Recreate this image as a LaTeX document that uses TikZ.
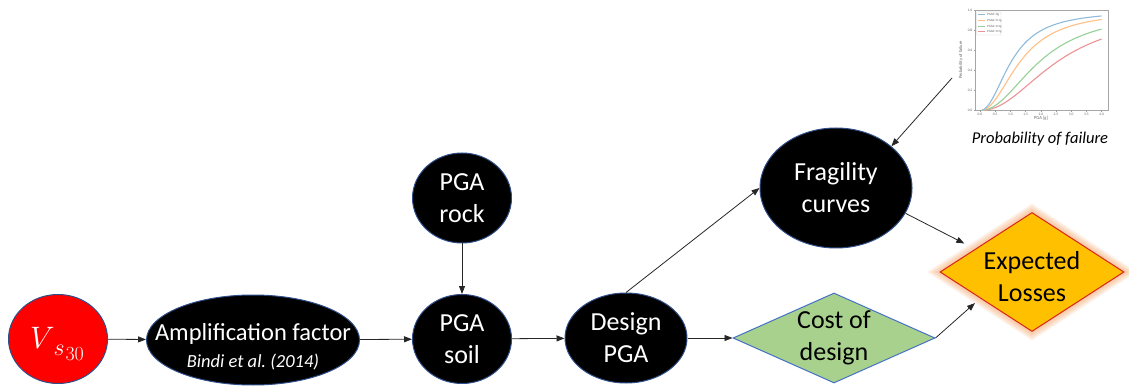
\RequirePackage{fix-cm}
\documentclass[tikz,border=0pt]{standalone}
\usepackage{fontspec}
\setmainfont{Carlito}
\usetikzlibrary{shapes.geometric,arrows.meta}

\definecolor{rim}{HTML}{2F4F8A}
\definecolor{costfill}{HTML}{A9D18E}
\definecolor{costrim}{HTML}{4472C4}
\definecolor{lossfill}{HTML}{FFC000}
\definecolor{lossrim}{HTML}{D9261C}
\definecolor{glowc}{HTML}{F08A3C}
\definecolor{cblue}{HTML}{8FBBDA}
\definecolor{corange}{HTML}{FFBF86}
\definecolor{cgreen}{HTML}{96D096}
\definecolor{cred}{HTML}{EB9394}

\begin{document}
\begin{tikzpicture}[x=1pt,y=-1pt,
  blob/.style={ellipse, draw=rim, line width=1pt, fill=black, inner sep=0pt},
  lbl/.style={font=\fontsize{26}{32}\selectfont, align=center, text=white, inner sep=0pt},
  dlbl/.style={lbl, text=black},
  flow/.style={draw=black!85, line width=0.8pt, -{Triangle[length=8pt,width=6pt]}},
  tick/.style={font=\fontsize{3.6}{4}\selectfont, text=black!60, inner sep=0pt},
  curve/.style={line width=1.1pt, line join=round}]
\useasboundingbox (0,0) rectangle (1129,387);

% ---------- process nodes ----------
\node[blob, fill=red, minimum width=99, minimum height=89] (vs) at (58,339) {};
\node[lbl, font=\fontsize{31}{31}\selectfont, anchor=base] (vstext) at (57,348)
  {$V$\kern-1pt\raisebox{-7pt}{\fontsize{24}{24}\selectfont$s$}\kern1pt\raisebox{-12pt}{\fontsize{20}{20}\selectfont$30$}};

\node[blob, minimum width=213, minimum height=90] (amp) at (253,340) {};
\node[lbl, font=\fontsize{24.5}{30}\selectfont] (amptext) at (253,334) {Amplification factor};
\node[lbl, font=\fontsize{18.5}{22}\selectfont\itshape] (ampref) at (253,362) {Bindi et al.\ (2014)};

\node[blob, minimum width=99, minimum height=90] (rock) at (462,198) {};
\node[lbl] (rocktext) at (462,198) {PGA\\rock};

\node[blob, minimum width=99, minimum height=89] (soil) at (462,339) {};
\node[lbl] (soiltext) at (462,339) {PGA\\soil};

\node[blob, minimum width=122, minimum height=90] (design) at (626,338) {};
\node[lbl] (designtext) at (626,338) {Design\\PGA};

\node[blob, minimum width=152, minimum height=120] (frag) at (836,188) {};
\node[lbl] (fragtext) at (836,188) {Fragility\\curves};

\node[diamond, draw=costrim, line width=1pt, fill=costfill, inner sep=0pt,
      minimum width=202, minimum height=90] (cost) at (834,338) {};
\node[dlbl] (costtext) at (834,338) {Cost of\\design};

% soft halo around the outcome node
\foreach \g in {13,11,...,1}{
  \fill[glowc, opacity=0.09]
    ({1032-92-\g},272) -- (1032,{272-59.5-0.7*\g}) --
    ({1032+92+\g},272) -- (1032,{272+59.5+0.7*\g}) -- cycle;
}
\node[diamond, draw=lossrim, line width=1pt, fill=lossfill, inner sep=0pt,
      minimum width=184, minimum height=119] (exp) at (1032,272) {};
\node[dlbl] (exptext) at (1032,277) {Expected\\Losses};

% ---------- fragility curve plot ----------
\draw[black!35, line width=0.5pt] (975,10) rectangle (1108,110.5);
\foreach \v/\t in {0/0.0,0.5/0.5,1/1.0,1.5/1.5,2/2.0,2.5/2.5,3/3.0,3.5/3.5,4/4.0}{
  \draw[black!40, line width=0.3pt] ({980+30.4*\v},110.5) -- ({980+30.4*\v},112);
  \node[tick] at ({980+30.4*\v},114) {\t};
}
\foreach \v/\t in {0/0.0,0.2/0.2,0.4/0.4,0.6/0.6,0.8/0.8,1/1.0}{
  \draw[black!40, line width=0.3pt] (975,{110.5-100*\v}) -- (973.5,{110.5-100*\v});
  \node[tick, anchor=east] at (972.5,{110.5-100*\v}) {\t};
}
\node[tick, font=\fontsize{4.6}{5}\selectfont] (xlab) at (1041,118.5) {PGA [g]};
\node[tick, font=\fontsize{4.6}{5}\selectfont, rotate=90] (ylab) at (961,60) {Probability of failure};

\begin{scope}
  \clip (975,10) rectangle (1108,110.5);
  \draw[curve, cred]    plot[domain=0.05:4, samples=80, smooth] ({980+30.4*\x},{110.5-100/(1+(2.6/\x)^2.13)});
  \draw[curve, cgreen]  plot[domain=0.05:4, samples=80, smooth] ({980+30.4*\x},{110.5-100/(1+(2.0/\x)^2.13)});
  \draw[curve, corange] plot[domain=0.05:4, samples=80, smooth] ({980+30.4*\x},{110.5-100/(1+(1.35/\x)^2.13)});
  \draw[curve, cblue]   plot[domain=0.05:4, samples=80, smooth] ({980+30.4*\x},{110.5-100/(1+(1.05/\x)^2.13)});
\end{scope}

% legend
\draw[black!20, line width=0.3pt, fill=white, rounded corners=1pt] (976.5,12) rectangle (1001,35);
\foreach \c/\t/\yy in {cblue/{PGAd=0g}/15, corange/{PGAd=0.1g}/20.7, cgreen/{PGAd=0.3g}/26.2, cred/{PGAd=0.5g}/31.7}{
  \draw[\c, line width=1pt] (978,\yy) -- (985,\yy);
  \node[tick, anchor=west, font=\fontsize{3.2}{4}\selectfont] at (987,\yy) {\t};
}

\node[font=\fontsize{16.5}{20}\selectfont\itshape, inner sep=0pt] (plotcap) at (1040,139) {Probability of failure};
\coordinate (plotedge) at (952,78);

% ---------- connectors ----------
\draw[flow] (vs) -- (amp);
\draw[flow] (amp) -- (soil);
\draw[flow] (rock) -- (soil);
\draw[flow] (soil) -- (design);
\draw[flow] (design.north) -- (frag.west);
\draw[flow] (design.east) -- (cost.west);
\draw[flow] (plotedge) -- (frag.37);
\draw[flow, shorten >=12pt] (frag.-20) -- (exp.158.6);
\draw[flow, shorten >=7pt] (cost.east) -- (exp.207.8);
\end{tikzpicture}
\end{document}
